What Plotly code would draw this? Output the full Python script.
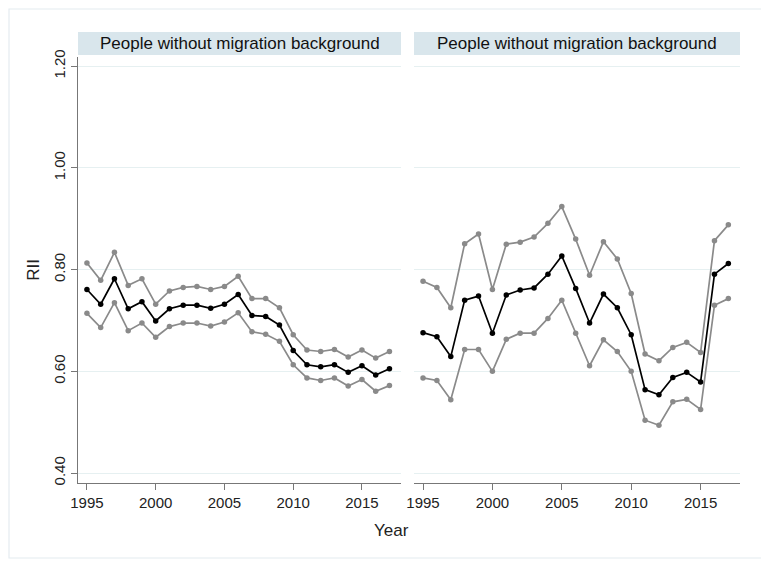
import plotly.graph_objects as go

years = list(range(1995, 2018))

panel_titles = ["People without migration background", "People without migration background"]

left_est = [0.761, 0.732, 0.782, 0.723, 0.737, 0.699, 0.723, 0.730, 0.730, 0.724, 0.732, 0.751,
            0.710, 0.708, 0.691, 0.641, 0.613, 0.609, 0.613, 0.598, 0.611, 0.593, 0.605]
left_hi = [0.813, 0.779, 0.834, 0.769, 0.782, 0.732, 0.758, 0.765, 0.767, 0.761, 0.767, 0.787,
           0.743, 0.743, 0.725, 0.672, 0.642, 0.639, 0.643, 0.628, 0.642, 0.626, 0.639]
left_lo = [0.714, 0.686, 0.735, 0.680, 0.695, 0.667, 0.688, 0.695, 0.695, 0.689, 0.697, 0.715,
           0.678, 0.673, 0.659, 0.613, 0.587, 0.582, 0.587, 0.571, 0.584, 0.561, 0.572]

right_est = [0.676, 0.668, 0.629, 0.740, 0.748, 0.675, 0.750, 0.760, 0.764, 0.791, 0.827, 0.763,
             0.695, 0.752, 0.725, 0.672, 0.564, 0.554, 0.588, 0.598, 0.579, 0.791, 0.812]
right_hi = [0.777, 0.765, 0.725, 0.851, 0.870, 0.761, 0.850, 0.854, 0.864, 0.891, 0.924, 0.860,
            0.789, 0.855, 0.821, 0.753, 0.634, 0.621, 0.647, 0.657, 0.637, 0.857, 0.888]
right_lo = [0.587, 0.582, 0.544, 0.643, 0.643, 0.600, 0.663, 0.675, 0.675, 0.704, 0.740, 0.675,
            0.611, 0.662, 0.639, 0.600, 0.504, 0.494, 0.540, 0.545, 0.525, 0.730, 0.743]

y_ticks = [0.4, 0.6, 0.8, 1.0, 1.2]
y_ticktext = ["0.40", "0.60", "0.80", "1.00", "1.20"]
x_ticks = [1995, 2000, 2005, 2010, 2015]

GREY = "#8a8a8a"
BLACK = "#000000"

fig = go.Figure()

def add_series(y, color, xa, ya):
    fig.add_trace(go.Scatter(
        x=years, y=y, mode="lines+markers", xaxis=xa, yaxis=ya,
        line=dict(color=color, width=1.7),
        marker=dict(color=color, size=5.5),
        showlegend=False, hoverinfo="x+y"))

for data, xa, ya in [((left_hi, left_lo, left_est), "x", "y"),
                     ((right_hi, right_lo, right_est), "x2", "y2")]:
    hi, lo, est = data
    add_series(hi, GREY, xa, ya)
    add_series(lo, GREY, xa, ya)
    add_series(est, BLACK, xa, ya)

# page offset of the plot div (body margin)
OFF = 8
W, H = 769 - OFF, 564 - OFF
ml, mr, mt, mb = 78 - OFF, 29, 57 - OFF, 81
pw = W - ml - mr
ph = H - mt - mb

def px_x(vx):  # viewport x -> paper
    return (vx - OFF - ml) / pw

def px_y(vy):  # viewport y -> paper
    return (H - mb - (vy - OFF)) / ph

d1 = [0, px_x(401)]
d2 = [px_x(414), 1]

xr = [1994.35, 2017.84]
yr = [0.3805, 1.218]

font_fam = "Liberation Sans, Arial, sans-serif"
grid_col = "#e6f0f1"
axis_col = "#777777"
txt_col = "#222222"

common_x = dict(range=xr, tickvals=x_ticks, showgrid=False, zeroline=False,
                showline=True, linecolor=axis_col, linewidth=1.3,
                ticks="outside", ticklen=6, tickcolor=axis_col,
                tickfont=dict(size=15, color=txt_col, family=font_fam))
common_y = dict(range=yr, tickvals=y_ticks, ticktext=y_ticktext, showgrid=True,
                gridcolor=grid_col, gridwidth=1, zeroline=False)

fig.update_layout(
    width=W, height=H,
    margin=dict(l=ml, r=mr, t=mt, b=mb),
    paper_bgcolor="white", plot_bgcolor="white",
    font=dict(family=font_fam, color=txt_col),
    xaxis=dict(domain=d1, **common_x),
    xaxis2=dict(domain=d2, anchor="y2", **common_x),
    yaxis=dict(domain=[0, 1], showline=True, linecolor=axis_col, linewidth=1.3,
               ticks="outside", ticklen=6, tickcolor=axis_col, tickangle=-90,
               tickfont=dict(size=15, color=txt_col, family=font_fam),
               title=dict(text="RII", font=dict(size=17, family=font_fam, color=txt_col), standoff=6),
               **common_y),
    yaxis2=dict(domain=[0, 1], anchor="x2", showticklabels=False, showline=False, ticks="",
                **common_y),
)

fig.add_annotation(text="Year", xref="paper", yref="paper", x=px_x(391), y=px_y(530),
                   showarrow=False, font=dict(size=17, family=font_fam, color=txt_col),
                   xanchor="center", yanchor="middle")

band_y0 = px_y(55)
band_y1 = px_y(32)
shapes = []
for dom, title in zip([d1, d2], panel_titles):
    shapes.append(dict(type="rect", xref="paper", yref="paper", x0=dom[0], x1=dom[1],
                       y0=band_y0, y1=band_y1, fillcolor="#d9e6ec", line=dict(width=0),
                       layer="below"))
    fig.add_annotation(text=title, xref="paper", yref="paper", x=(dom[0] + dom[1]) / 2,
                       y=(band_y0 + band_y1) / 2, showarrow=False, xanchor="center",
                       yanchor="middle", font=dict(size=17, family=font_fam, color="#111"))

shapes.append(dict(type="rect", xref="paper", yref="paper",
                   x0=px_x(9), x1=px_x(762),
                   y0=px_y(558), y1=px_y(9),
                   line=dict(color="#e4ecf0", width=1.2), fillcolor="rgba(0,0,0,0)"))
fig.update_layout(shapes=shapes)

fig.write_html("out.html")
